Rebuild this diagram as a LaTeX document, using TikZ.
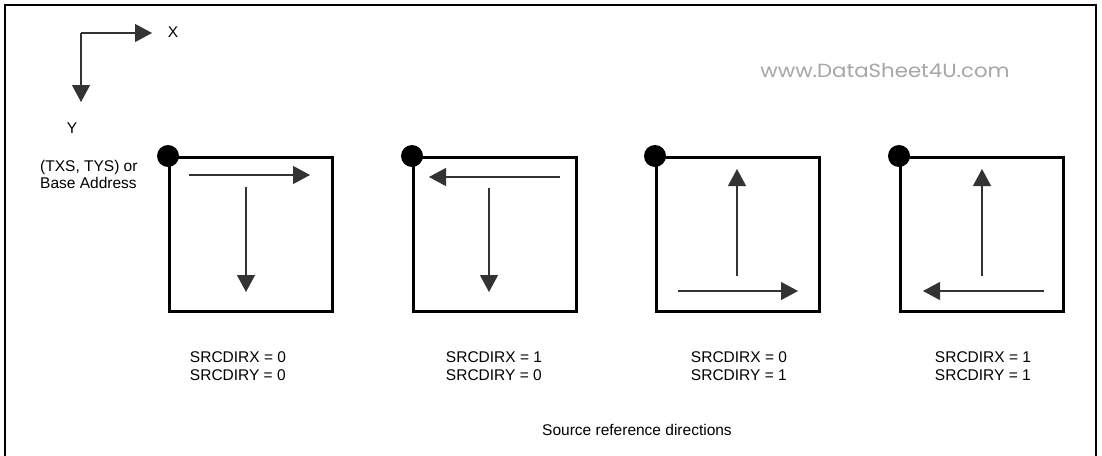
\documentclass[tikz,border=0pt]{standalone}
\usepackage{fontspec}
\setmainfont{Liberation Sans}
\newfontfamily\wmfont{Poppins}
\usetikzlibrary{arrows.meta}
\begin{document}
\begin{tikzpicture}[x=1pt,y=-1pt,
  lbl/.style={font=\fontsize{15.5}{17.5}\selectfont, inner sep=0pt, align=left},
  regbox/.style={draw=black, line width=2.8pt, minimum width=163pt, minimum height=154pt, inner sep=0pt, anchor=north west},
  basedot/.style={circle, fill=black, inner sep=0pt, minimum size=22pt},
  dirarrow/.style={draw=black!80, line width=1.2pt, -{Triangle[length=17pt,width=18pt]}},
]
\useasboundingbox (0,0) rectangle (1102,455);
\clip (0,0) rectangle (1102,455);
\fill[white] (0,0) rectangle (1102,455);
\draw[line width=2.8pt] (5,480) -- (5,5) -- (1096,5) -- (1096,480);

% axes
\coordinate (org) at (81,33);
\coordinate (xend) at (152,33);
\coordinate (yend) at (81,102);
\draw[dirarrow] (org) -- (xend);
\draw[dirarrow] (org) -- (yend);
\node[lbl] (xlab) at (173,32) {X};
\node[lbl] (ylab) at (72,128) {Y};
\node[lbl, anchor=west] (baseaddr) at (40,174.5) {(TXS, TYS) or\\Base Address};

% watermark
\node[inner sep=0pt, text=black!35, xscale=1.12] (wm) at (885,71) {\wmfont\fontsize{19}{19}\selectfont www.DataSheet4U.com};

% boxes
\node[regbox] (box1) at (168,156) {};
\node[regbox] (box2) at (412,156) {};
\node[regbox] (box3) at (655,156) {};
\node[regbox] (box4) at (899,156) {};
\foreach \i in {1,2,3,4}{\node[basedot] (dot\i) at (box\i.north west) {};}

% box 1
\coordinate (h1s) at (189,175); \coordinate (h1e) at (310,175);
\coordinate (v1s) at (246,187); \coordinate (v1e) at (246,292);
\draw[dirarrow] (h1s) -- (h1e);
\draw[dirarrow] (v1s) -- (v1e);
% box 2
\coordinate (h2s) at (560,177); \coordinate (h2e) at (429,177);
\coordinate (v2s) at (489,188); \coordinate (v2e) at (489,292);
\draw[dirarrow] (h2s) -- (h2e);
\draw[dirarrow] (v2s) -- (v2e);
% box 3
\coordinate (v3s) at (737,276); \coordinate (v3e) at (737,169);
\coordinate (h3s) at (678,291); \coordinate (h3e) at (798,291);
\draw[dirarrow] (v3s) -- (v3e);
\draw[dirarrow] (h3s) -- (h3e);
% box 4
\coordinate (v4s) at (982,276); \coordinate (v4e) at (982,169);
\coordinate (h4s) at (1044,291); \coordinate (h4e) at (923,291);
\draw[dirarrow] (v4s) -- (v4e);
\draw[dirarrow] (h4s) -- (h4e);

% labels
\node[lbl] (lab1) at (238,366) {SRCDIRX = 0\\SRCDIRY = 0};
\node[lbl] (lab2) at (494,366) {SRCDIRX = 1\\SRCDIRY = 0};
\node[lbl] (lab3) at (739,366) {SRCDIRX = 0\\SRCDIRY = 1};
\node[lbl] (lab4) at (983,366) {SRCDIRX = 1\\SRCDIRY = 1};
\node[lbl] (caption) at (637,430) {Source reference directions};
\end{tikzpicture}
\end{document}
